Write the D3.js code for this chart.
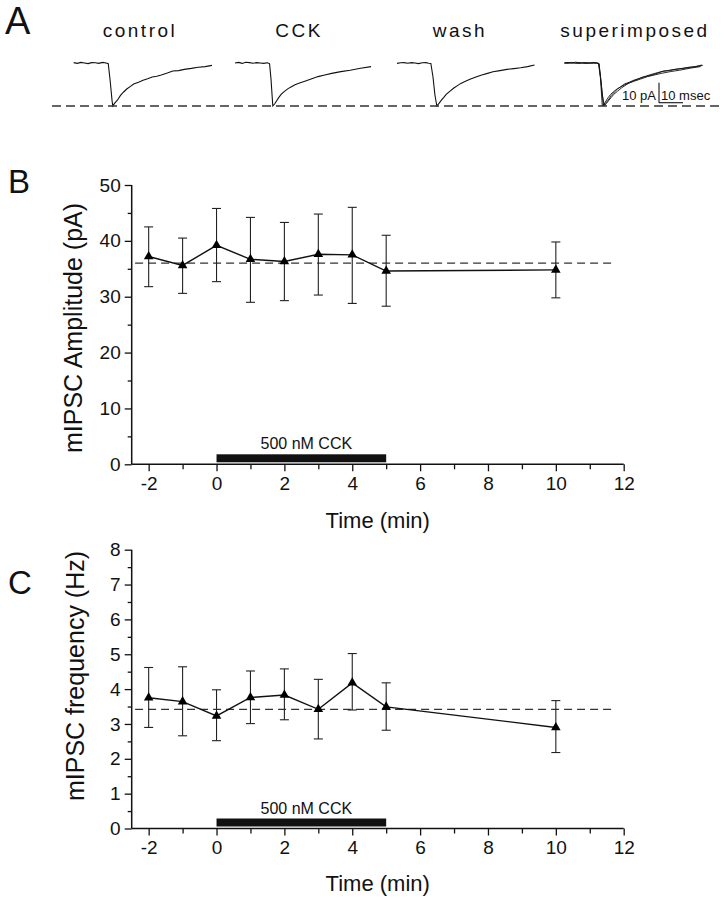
<!DOCTYPE html>
<html><head><meta charset="utf-8">
<script src="https://cdn.jsdelivr.net/npm/d3@7"></script>
<style>
body{margin:0;background:#fff}
svg{display:block}
text{font-family:"Liberation Sans",Arial,Helvetica,sans-serif;fill:#111}
</style>
</head><body>
<svg id="chart" width="724" height="899"></svg>
<script>
// ---------------- DATA ----------------
const timePoints = [-2, -1, 0, 1, 2, 3, 4, 5, 10];
const ampMean  = [37.2, 35.6, 39.2, 36.7, 36.3, 37.6, 37.5, 34.6, 34.8];
const ampUpper = [42.5, 40.5, 45.8, 44.2, 43.3, 44.8, 46.0, 41.0, 39.8];
const ampLower = [31.8, 30.6, 32.7, 29.0, 29.3, 30.3, 28.8, 28.3, 29.8];
const ampBaseline = 36.0;
const freqMean  = [3.75, 3.64, 3.23, 3.76, 3.83, 3.42, 4.18, 3.49, 2.90];
const freqUpper = [4.62, 4.64, 3.98, 4.52, 4.58, 4.28, 5.02, 4.18, 3.67];
const freqLower = [2.90, 2.66, 2.52, 3.01, 3.12, 2.57, 3.40, 2.82, 2.18];
const freqBaseline = 3.42;
const drugWindow = [0, 5];
const drugLabel = "500 nM CCK";
const xTicks = [-2, 0, 2, 4, 6, 8, 10, 12];
const xMinorTicks = [-1, 1, 3, 5, 7, 9, 11];
const ampTicks = [0, 10, 20, 30, 40, 50];
const ampMinorTicks = [5, 15, 25, 35, 45];
const freqTicks = [0, 1, 2, 3, 4, 5, 6, 7, 8];
const freqMinorTicks = [0.5, 1.5, 2.5, 3.5, 4.5, 5.5, 6.5, 7.5];
const xTitle = "Time (min)";
const ampTitle = "mIPSC Amplitude (pA)";
const freqTitle = "mIPSC frequency (Hz)";
const traceNames = ["control", "CCK", "wash", "superimposed"];
// example mIPSC traces: time (ms), current (pA)
const controlT = [0,1.5,3,4.5,6,7.5,9,10.5,12,13.5,14.4,15.2,16.0,16.3,17.0,18.2,19.5,20.8,22.1,23.5,25,27,28.9,30.8,32.7,34.6,36.5,39,41.3,43.7,46.1,49,51.9,54.8,57.6];
const controlI = [0.2,-0.2,0.3,0,-0.3,0.2,0.1,-0.2,0.3,0,-0.3,-9,-19,-21.5,-20.2,-18.6,-16.2,-14.5,-13,-11.8,-10.5,-9.6,-8.6,-7.9,-7,-6.6,-6,-5,-4,-3.8,-3.2,-2.7,-2.1,-1.8,-1.2];
const cckT = [0,1.5,3,4.5,6,7.5,9,10.5,12,13.5,14.4,15.0,15.5,15.75,16.5,17.3,18.2,19.2,20.6,22.1,23.5,25,26.9,28.8,31.7,34.6,37.4,40.3,44.1,48,52.3,56.7];
const cckI = [0,0.3,-0.2,0.4,0.2,-0.1,0.2,0,-0.2,0.1,-0.3,-8,-17,-21.5,-20.5,-19,-17.3,-15.7,-14.2,-12.8,-11.9,-10.9,-10,-9.2,-8,-6.8,-6,-5.2,-4.3,-3.6,-2.6,-1.8];
const washT = [0,1.5,3,4.5,6,7.5,9,10.5,12,13.2,14.1,15.0,15.8,16.6,17.5,18.5,19.5,20.5,22.1,23.7,25.2,26.6,28.5,30.4,32.9,35.3,37.7,40,42.9,45.8,48.7,51.5,54.4,57.3];
const washI = [-0.2,0.1,0.2,-0.1,0.2,0,-0.3,0.1,0.2,-0.1,-0.2,-7,-16,-21.5,-20.2,-18.6,-17.2,-15.7,-14.1,-12.5,-11.3,-10.2,-9.1,-8.1,-7,-6,-5.2,-4.4,-3.8,-3.2,-2.8,-2.4,-1.8,-1.0];
const peakLevel = -21.5;
const scaleBarPA = 10, scaleBarMs = 10;

// ---------------- DRAW ----------------
const svg = d3.select("#chart");
const ink = "#111";

// Panel letters
svg.append("text").attr("x", 5).attr("y", 34).style("font-size", "38px").text("A");
svg.append("text").attr("x", 8).attr("y", 193).style("font-size", "33px").text("B");
svg.append("text").attr("x", 8).attr("y", 594).style("font-size", "33px").text("C");

// ---- Panel A: traces ----
const traceStarts = [73.7, 235, 397, 564.5];
const titleCenters = [140, 299, 460, 635];
const ty = d3.scaleLinear().domain([-25, 5]).range([113, 53]);
const traces = [
  {t: controlT, i: controlI},
  {t: cckT, i: cckI},
  {t: washT, i: washI}
];
const lineFor = (sx) => d3.line().x(d => sx(d[0])).y(d => ty(d[1]));
traceNames.forEach((name, k) => {
  svg.append("text").attr("x", titleCenters[k]).attr("y", 37)
    .attr("text-anchor", "middle").style("font-size", "19px")
    .style("letter-spacing", "2.5px").text(name);
  const sx = d3.scaleLinear().domain([0, 60]).range([traceStarts[k], traceStarts[k] + 144]);
  const list = k < 3 ? [traces[k]] : traces;
  list.forEach(tr => {
    svg.append("path").datum(tr.t.map((t, j) => [t, tr.i[j]]))
      .attr("d", lineFor(sx)).attr("fill", "none")
      .attr("stroke", ink).attr("stroke-width", k < 3 ? 1.1 : 0.9);
  });
});
// dashed peak reference
svg.append("line").attr("x1", 52).attr("x2", 724)
  .attr("y1", ty(peakLevel)).attr("y2", ty(peakLevel))
  .attr("stroke", "#333").attr("stroke-width", 1.3).attr("stroke-dasharray", "9,5");
// scale bar
const sbx = d3.scaleLinear().domain([0, 10]).range([659, 683]);
const sbBottom = 102.7;
const pxPerPA = ty(0) - ty(1);
svg.append("line").attr("x1", sbx(0)).attr("x2", sbx(0))
  .attr("y1", sbBottom).attr("y2", sbBottom - scaleBarPA * pxPerPA)
  .attr("stroke", ink).attr("stroke-width", 1.1);
svg.append("line").attr("x1", sbx(0)).attr("x2", sbx(scaleBarMs))
  .attr("y1", sbBottom).attr("y2", sbBottom)
  .attr("stroke", ink).attr("stroke-width", 1.1);
svg.append("text").attr("x", sbx(0) - 3).attr("y", 100).attr("text-anchor", "end")
  .style("font-size", "13px").text(scaleBarPA + " pA");
svg.append("text").attr("x", sbx(0) + 2).attr("y", 100)
  .style("font-size", "13px").text(scaleBarMs + " msec");

// ---- Panels B and C ----
const plainFmt = d => String(d);
function drawPanel(cfg) {
  const x = d3.scaleLinear().domain([-2.5, 12]).range([131.7, 623.7]);
  const y = d3.scaleLinear().domain(cfg.domain).range(cfg.range);
  const g = svg.append("g");

  // axes
  const yAx = g.append("g").attr("transform", `translate(${x(-2.5)},0)`)
    .call(d3.axisLeft(y).tickValues(cfg.ticks).tickSize(7).tickSizeOuter(0).tickPadding(4).tickFormat(plainFmt));
  g.append("g").attr("transform", `translate(${x(-2.5)},0)`)
    .call(d3.axisLeft(y).tickValues(cfg.minor).tickSize(4).tickSizeOuter(0).tickFormat(""))
    .select(".domain").remove();
  const xAx = g.append("g").attr("transform", `translate(0,${y(0)})`)
    .call(d3.axisBottom(x).tickValues(xTicks).tickSize(7).tickSizeOuter(0).tickPadding(5).tickFormat(plainFmt));
  g.append("g").attr("transform", `translate(0,${y(0)})`)
    .call(d3.axisBottom(x).tickValues(xMinorTicks).tickSize(5).tickSizeOuter(0).tickFormat(""))
    .select(".domain").remove();
  xAx.select(".domain").attr("d", `M${x(-2.5)},0H${x(12)}`);
  yAx.select(".domain").attr("d", `M0,${y(cfg.domain[1])}V${y(0)}`);
  g.selectAll(".domain").attr("stroke", ink).attr("stroke-width", 1.5);
  g.selectAll(".tick line").attr("stroke", ink).attr("stroke-width", 1.3);
  g.selectAll(".tick text").style("font-size", "19px")
    .style("font-family", '"Liberation Sans",Arial,sans-serif').attr("fill", ink);

  // titles
  g.append("text").attr("x", (x(-2.5) + x(12)) / 2).attr("y", cfg.xTitleY)
    .attr("text-anchor", "middle").style("font-size", "22px").text(xTitle);
  g.append("text").attr("transform", `translate(${cfg.yTitleX},${cfg.yTitleY}) rotate(-90)`)
    .attr("text-anchor", "middle").style("font-size", "25px").text(cfg.title);

  // drug bar
  g.append("rect").attr("x", x(drugWindow[0])).attr("width", x(drugWindow[1]) - x(drugWindow[0]))
    .attr("y", y(0) - 10).attr("height", 8).attr("fill", ink);
  g.append("text").attr("x", x((drugWindow[0] + drugWindow[1]) / 2) + 5).attr("y", y(0) - 15)
    .attr("text-anchor", "middle").style("font-size", "16px").text(drugLabel);

  // dashed baseline
  g.append("line").attr("x1", x(-2.4)).attr("x2", x(11.65))
    .attr("y1", y(cfg.base)).attr("y2", y(cfg.base))
    .attr("stroke", "#333").attr("stroke-width", 1.3).attr("stroke-dasharray", "8,5");

  // error bars
  const eb = g.append("g").attr("stroke", "#222").attr("stroke-width", 1.1);
  timePoints.forEach((t, k) => {
    eb.append("line").attr("x1", x(t)).attr("x2", x(t)).attr("y1", y(cfg.upper[k])).attr("y2", y(cfg.lower[k]));
    eb.append("line").attr("x1", x(t) - 4.5).attr("x2", x(t) + 4.5).attr("y1", y(cfg.upper[k])).attr("y2", y(cfg.upper[k]));
    eb.append("line").attr("x1", x(t) - 4.5).attr("x2", x(t) + 4.5).attr("y1", y(cfg.lower[k])).attr("y2", y(cfg.lower[k]));
  });
  // mean line
  g.append("path").datum(timePoints.map((t, k) => [t, cfg.mean[k]]))
    .attr("d", d3.line().x(d => x(d[0])).y(d => y(d[1])))
    .attr("fill", "none").attr("stroke", ink).attr("stroke-width", 1.4);
  // markers
  g.selectAll(".mk").data(timePoints.map((t, k) => [t, cfg.mean[k]])).enter()
    .append("path").attr("transform", d => `translate(${x(d[0])},${y(d[1])})`)
    .attr("d", d3.symbol(d3.symbolTriangle, 40)).attr("fill", "#000");
}

drawPanel({domain: [0, 50], range: [464.3, 185], ticks: ampTicks, minor: ampMinorTicks,
  mean: ampMean, upper: ampUpper, lower: ampLower, base: ampBaseline,
  title: ampTitle, xTitleY: 528, yTitleX: 82, yTitleY: 328});
drawPanel({domain: [0, 8], range: [828.5, 549.7], ticks: freqTicks, minor: freqMinorTicks,
  mean: freqMean, upper: freqUpper, lower: freqLower, base: freqBaseline,
  title: freqTitle, xTitleY: 891, yTitleX: 84, yTitleY: 676});
</script>
</body></html>
